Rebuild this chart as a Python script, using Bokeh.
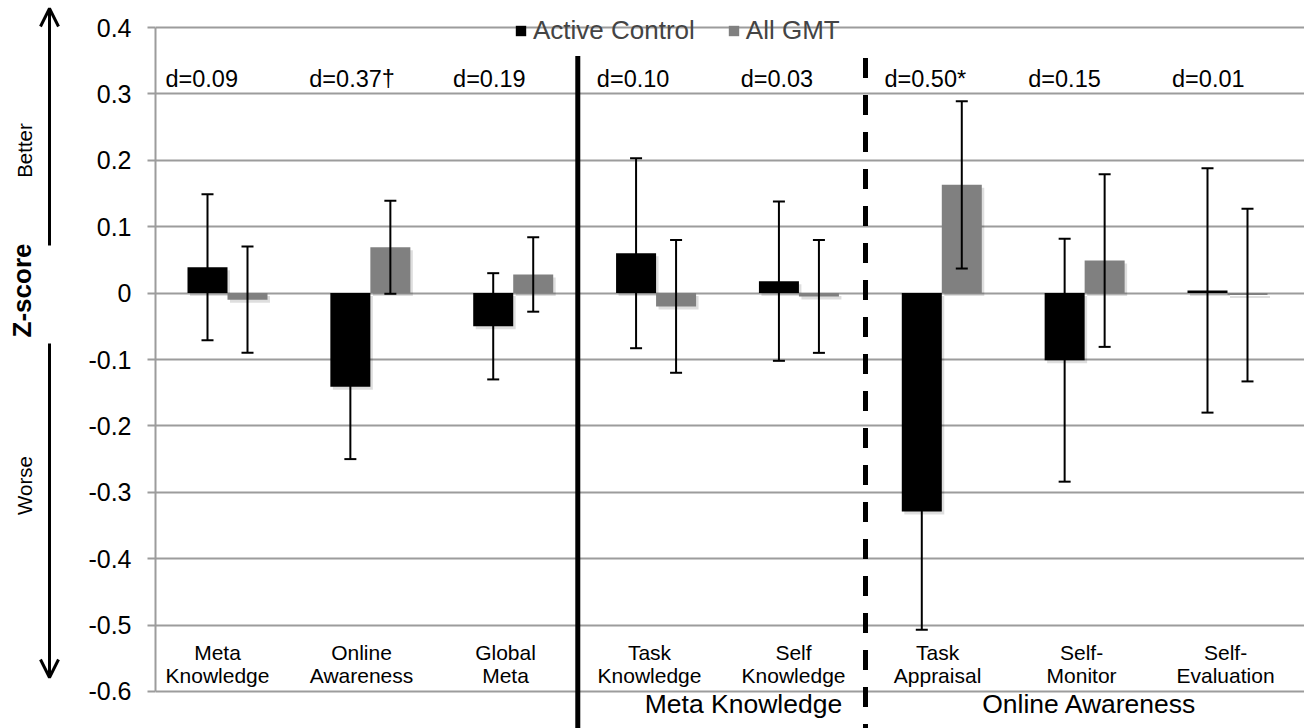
import numpy as np
from bokeh.plotting import figure
from bokeh.models import (ColumnDataSource, Range1d, FixedTicker, Whisker, TeeHead,
                          Legend, LegendItem, Arrow, OpenHead, BasicTickFormatter)
from bokeh.layouts import row
from bokeh.embed import file_html
from bokeh.resources import INLINE
from bokeh.core.properties import value

# ---------------- data ----------------
categories = ["Meta\nKnowledge", "Online\nAwareness", "Global\nMeta", "Task\nKnowledge",
              "Self\nKnowledge", "Task\nAppraisal", "Self-\nMonitor", "Self-\nEvaluation"]
series_names = ["Active Control", "All GMT"]
control_mean = [0.039, -0.141, -0.050, 0.060, 0.018, -0.329, -0.101, 0.004]
control_err = [0.110, 0.109, 0.080, 0.143, 0.120, 0.178, 0.183, 0.184]
gmt_mean = [-0.010, 0.069, 0.028, -0.020, -0.005, 0.163, 0.049, -0.003]
gmt_err = [0.080, 0.070, 0.056, 0.100, 0.085, 0.126, 0.130, 0.130]
effect_labels = ["d=0.09", "d=0.37\u2020", "d=0.19", "d=0.10", "d=0.03", "d=0.50*", "d=0.15", "d=0.01"]
group_names = ["Meta Knowledge", "Online Awareness"]
y_ticks = [0.4, 0.3, 0.2, 0.1, 0, -0.1, -0.2, -0.3, -0.4, -0.5, -0.6]
y_tick_labels = ["0.4", "0.3", "0.2", "0.1", "0", "-0.1", "-0.2", "-0.3", "-0.4", "-0.5", "-0.6"]

FONT = "Liberation Sans"
GRID = "#9c9c9c"

# ---------------- layout helpers ----------------
n = len(categories)
idx = np.arange(n)
centers = idx + 0.5
bar_w = 0.28
bx = centers - bar_w / 2
gx = centers + bar_w / 2
line1 = [c.split("\n")[0] for c in categories]
line2 = [c.split("\n")[1] for c in categories]

cm = np.array(control_mean); ce = np.array(control_err)
gm = np.array(gmt_mean); ge = np.array(gmt_err)

# ---------------- main figure ----------------
p = figure(width=1224, height=728, title=None,
           x_range=Range1d(-0.004, 8.039), y_range=Range1d(-0.655723, 0.440663),
           toolbar_location=None, output_backend="svg", x_axis_location=None,
           min_border_left=75, min_border_right=0, min_border_top=0, min_border_bottom=0)
p.outline_line_color = None
p.background_fill_color = "white"
p.xgrid.visible = False
p.ygrid.grid_line_color = GRID
p.ygrid.grid_line_width = 2

ax = p.yaxis[0]
ax.ticker = FixedTicker(ticks=y_ticks)
ax.formatter = BasicTickFormatter(precision=1)
ax.major_label_overrides = {t: l for t, l in zip(y_ticks, y_tick_labels)}
ax.bounds = (-0.6, 0.4)
ax.axis_line_color = GRID
ax.axis_line_width = 2
ax.major_tick_line_color = GRID
ax.major_tick_line_width = 2
ax.major_tick_out = 8
ax.major_tick_in = 0
ax.minor_tick_line_color = None
ax.major_label_standoff = 16
ax.major_label_text_font = FONT
ax.major_label_text_font_size = "25px"
ax.major_label_text_color = "black"

# bar shadows
sx = 2.5 / 142.86
sy = 3.0 / 664.0
p.vbar(x=bx + sx, width=bar_w, top=np.maximum(cm, 0) - sy, bottom=np.minimum(cm, 0) - sy,
       fill_color="black", fill_alpha=0.13, line_color=None)
p.vbar(x=gx + sx, width=bar_w, top=np.maximum(gm, 0) - sy, bottom=np.minimum(gm, 0) - sy,
       fill_color="black", fill_alpha=0.13, line_color=None)

rb = p.vbar(x=bx, width=bar_w, top=cm, bottom=0, fill_color="black", line_color=None)
rg = p.vbar(x=gx, width=bar_w, top=gm, bottom=0, fill_color="#808080", line_color=None)

for xs, m, e in ((bx, cm, ce), (gx, gm, ge)):
    src = ColumnDataSource(dict(base=xs, upper=m + e, lower=m - e))
    w = Whisker(source=src, base="base", upper="upper", lower="lower", dimension="height",
                line_color="black", line_width=2, level="overlay",
                upper_head=TeeHead(size=12, line_width=2, line_color="black"),
                lower_head=TeeHead(size=12, line_width=2, line_color="black"))
    p.add_layout(w)

# dividers between groups
p.segment(x0=[2.952], x1=[2.952], y0=[0.357], y1=[-0.7], line_color="black", line_width=5)
p.segment(x0=[4.966], x1=[4.966], y0=[0.354], y1=[-0.7], line_color="black", line_width=5,
          line_dash="20 17")

# effect size labels (left-aligned near each category's left edge)
p.text(x=idx.astype(float), y=[0.31] * n, text=effect_labels,
       x_offset=9.4 + 0.94 * idx, y_offset=-8,
       text_font=value(FONT), text_font_size=value("23.5px"), text_align="left",
       text_baseline="alphabetic", text_color="black")

# category labels (two lines)
lab_dx = -10 + 1.15 * idx
p.text(x=centers, y=[-0.6] * n, text=line1, x_offset=lab_dx, y_offset=-39,
       text_font=value(FONT), text_font_size=value("21px"), text_align="center",
       text_baseline="alphabetic", text_color="black")
p.text(x=centers, y=[-0.6] * n, text=line2, x_offset=lab_dx, y_offset=-15.5,
       text_font=value(FONT), text_font_size=value("21px"), text_align="center",
       text_baseline="alphabetic", text_color="black")

# group labels
p.text(x=[4.112, 6.534], y=[-0.6, -0.6], text=group_names, y_offset=13,
       text_font=value(FONT), text_font_size=value("26.5px"), text_align="center",
       text_baseline="alphabetic", text_color="black")

legend = Legend(items=[LegendItem(label=value(series_names[0]), renderers=[rb]),
                       LegendItem(label=value(series_names[1]), renderers=[rg])],
                orientation="horizontal", location=(359, 682), padding=0, margin=0,
                spacing=32, label_standoff=6, glyph_width=13, glyph_height=13,
                label_text_font=FONT, label_text_font_size="26px",
                border_line_alpha=0, background_fill_alpha=0)
p.add_layout(legend)

# ---------------- left decoration figure ----------------
left = figure(width=80, height=728, title=None, x_range=Range1d(0, 80), y_range=Range1d(728, 0),
              toolbar_location=None, output_backend="svg", x_axis_location=None,
              y_axis_location=None, min_border=0)
left.outline_line_color = None
left.grid.visible = False
left.add_layout(Arrow(end=OpenHead(size=18, line_width=3, line_color="black"),
                      x_start=49, y_start=245, x_end=49, y_end=8,
                      line_width=3, line_color="black"))
left.add_layout(Arrow(end=OpenHead(size=18, line_width=3, line_color="black"),
                      x_start=49, y_start=343, x_end=49, y_end=677,
                      line_width=3, line_color="black"))
left.text(x=[24, 24], y=[150, 485], text=["Better", "Worse"], angle=np.pi / 2,
          text_font=value(FONT), text_font_size=value("20.5px"), text_align="center",
          text_baseline="middle", text_color="black")
left.text(x=[21], y=[290], text=["Z-score"], angle=np.pi / 2,
          text_font=value(FONT), text_font_size=value("26px"), text_font_style="bold",
          text_align="center", text_baseline="middle", text_color="black")

layout = row(left, p, spacing=0)
open("out.html", "w").write(file_html(layout, INLINE))
